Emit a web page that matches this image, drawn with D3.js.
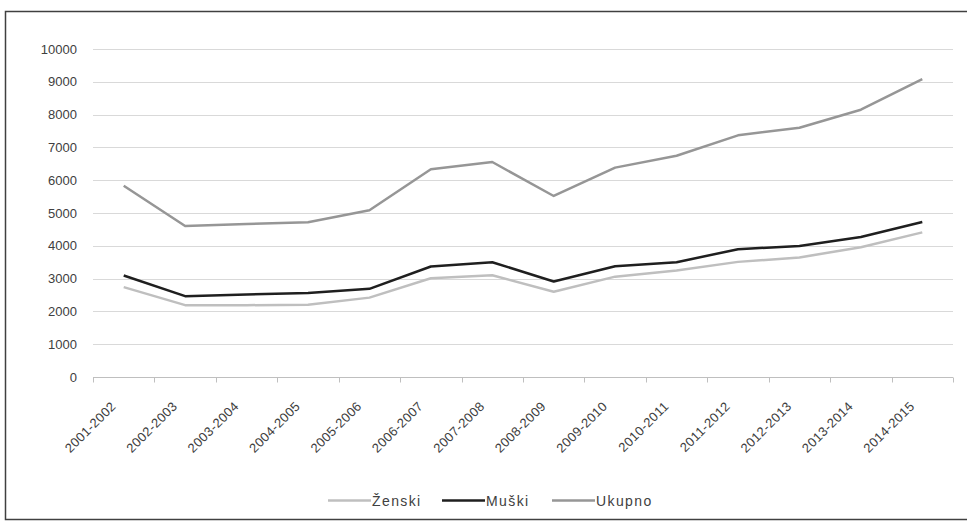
<!DOCTYPE html>
<html>
<head>
<meta charset="utf-8">
<script src="https://cdn.jsdelivr.net/npm/d3@7"></script>
<style>
  body { margin: 0; background: #fff; }
  svg { display: block; }
  text { font-family: "Liberation Sans", Arial, sans-serif; fill: #404040; }
</style>
</head>
<body>
<svg id="chart" width="967" height="525"></svg>
<script>
const categories = ["2001-2002","2002-2003","2003-2004","2004-2005","2005-2006","2006-2007","2007-2008","2008-2009","2009-2010","2010-2011","2011-2012","2012-2013","2013-2014","2014-2015"];
const zenski  = [2740, 2190, 2190, 2200, 2420, 3010, 3100, 2600, 3060, 3250, 3510, 3645, 3955, 4410];
const muski   = [3095, 2465, 2515, 2560, 2688, 3370, 3500, 2910, 3375, 3500, 3896, 3997, 4270, 4728];
const ukupno  = [5830, 4606, 4665, 4715, 5084, 6332, 6554, 5519, 6384, 6745, 7367, 7601, 8149, 9085];
const yTicks  = [0, 1000, 2000, 3000, 4000, 5000, 6000, 7000, 8000, 9000, 10000];
const seriesNames = ["Ženski", "Muški", "Ukupno"];
const seriesColors = ["#bfbfbf", "#1f1f1f", "#969696"];
const seriesData = [zenski, muski, ukupno];

(function () {
const svg = d3.select("#chart");

// outer border
svg.append("rect")
  .attr("x", 5.5).attr("y", 11.5).attr("width", 967).attr("height", 508)
  .attr("fill", "none").attr("stroke", "#404040").attr("stroke-width", 1.5);

const pLeft = 93, pRight = 953, pTop = 49, pBottom = 377;
const x = d3.scaleBand().domain(categories).range([pLeft, pRight]).paddingInner(0).paddingOuter(0);
const y = d3.scaleLinear().domain([0, 10000]).range([pBottom, pTop]);

// gridlines
svg.append("g").selectAll("line")
  .data(yTicks.filter(d => d > 0))
  .join("line")
  .attr("x1", pLeft).attr("x2", pRight)
  .attr("y1", d => Math.round(y(d)) + 0.5).attr("y2", d => Math.round(y(d)) + 0.5)
  .attr("stroke", "#d9d9d9").attr("stroke-width", 1);

// y axis labels
const yAxis = d3.axisLeft(y).tickValues(yTicks).tickSize(0).tickPadding(16).tickFormat(d3.format("d"));
const gy = svg.append("g").attr("transform", `translate(${pLeft},0)`).call(yAxis);
gy.select(".domain").remove();
gy.selectAll("text").attr("font-size", 13).style("font-family", "'Liberation Sans', Arial, sans-serif").attr("fill", "#404040");

// x axis
const gx = svg.append("g").attr("transform", `translate(0,${Math.round(pBottom) + 0.5})`);
gx.append("line").attr("x1", pLeft).attr("x2", pRight).attr("stroke", "#bfbfbf").attr("stroke-width", 1);
const tickPos = categories.map(c => x(c)).concat([x(categories[categories.length - 1]) + x.bandwidth()]);
gx.selectAll("line.tk").data(tickPos).join("line").attr("class", "tk")
  .attr("x1", d => Math.round(d) + 0.5).attr("x2", d => Math.round(d) + 0.5)
  .attr("y1", 0).attr("y2", 5).attr("stroke", "#bfbfbf");

svg.append("g").selectAll("text")
  .data(categories)
  .join("text")
  .attr("transform", d => `translate(${x(d) + x.bandwidth() / 2 - 7},${pBottom + 30}) rotate(-45)`)
  .attr("text-anchor", "end")
  .attr("font-size", 13)
  .attr("letter-spacing", "0.4px")
  .text(d => d);

// lines
const line = d3.line()
  .x((d, i) => x(categories[i]) + x.bandwidth() / 2)
  .y(d => y(d));

svg.append("g").selectAll("path")
  .data(seriesData)
  .join("path")
  .attr("d", d => line(d))
  .attr("fill", "none")
  .attr("stroke", (d, i) => seriesColors[i])
  .attr("stroke-width", 2.5)
  .attr("stroke-linejoin", "round");

// legend
const legendX = [328, 442, 552];
const legend = svg.append("g").selectAll("g")
  .data(seriesNames)
  .join("g")
  .attr("transform", (d, i) => `translate(${legendX[i]},${500.5})`);
legend.append("line").attr("x1", 0).attr("x2", 43)
  .attr("stroke", (d, i) => seriesColors[i]).attr("stroke-width", 2.5);
legend.append("text").attr("x", 44).attr("y", 5)
  .attr("font-size", 14).attr("letter-spacing", "1.4px")
  .text(d => d);
})();
</script>
</body>
</html>
